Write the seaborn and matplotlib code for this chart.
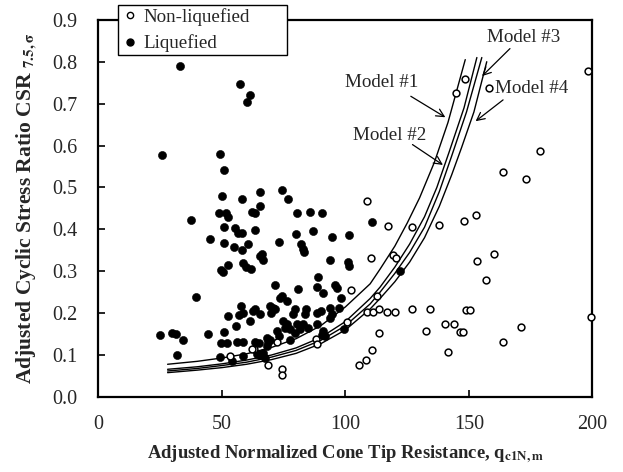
import numpy as np
import pandas as pd
import matplotlib
matplotlib.use("Agg")
import matplotlib.pyplot as plt
import seaborn as sns
from matplotlib.lines import Line2D

# ---------------- data ----------------
liq_q = [33.1, 57.4, 61.4, 60.1, 25.7, 49.3, 51.0, 49.9, 58.2, 65.5, 49.0, 51.7, 52.4, 62.1, 63.4, 65.5,
         37.4, 51.0, 55.3, 63.2, 45.0, 51.0, 49.7, 50.6, 52.6, 39.6, 52.6, 25.0, 29.7, 31.3, 34.3, 44.3,
         51.0, 49.7, 52.0, 54.7, 58.0, 60.5, 56.7, 58.1, 58.7, 59.7, 61.7, 65.5, 57.7, 58.7, 57.1, 61.4,
         62.5, 63.4, 55.7, 32.0, 56.0, 58.7, 63.4, 49.3, 54.0, 58.7, 64.1, 80.3, 85.7, 90.4, 73.2, 80.0,
         86.8, 94.5, 101.5, 82.1, 83.0, 83.3, 66.3, 66.8, 93.8, 101.2, 101.5, 110.9, 88.8, 88.4, 91.1, 95.8,
         96.5, 80.6, 71.5, 73.6, 74.3, 76.3, 98.1, 69.5, 70.6, 69.8, 71.5, 79.4, 78.9, 84.1, 83.7, 90.2,
         93.8, 94.5, 97.2, 65.5, 74.9, 76.3, 77.6, 75.6, 80.3, 81.7, 85.0, 91.1, 90.4, 91.8, 72.2, 72.9,
         68.2, 69.5, 64.8, 68.8, 99.6, 121.9, 65.5, 67.5, 66.8, 68.2, 77.6, 79.4, 83.0, 88.4, 93.8, 88.4,
         74.2, 76.9]
liq_csr = [0.789, 0.747, 0.721, 0.703, 0.578, 0.580, 0.541, 0.479, 0.473, 0.488, 0.438, 0.439, 0.430, 0.441, 0.438, 0.455,
           0.423, 0.405, 0.404, 0.399, 0.378, 0.368, 0.304, 0.298, 0.314, 0.238, 0.193, 0.149, 0.153, 0.151, 0.137, 0.151,
           0.156, 0.128, 0.128, 0.358, 0.350, 0.366, 0.392, 0.391, 0.319, 0.310, 0.306, 0.336, 0.217, 0.201, 0.195, 0.181,
           0.205, 0.211, 0.169, 0.100, 0.130, 0.130, 0.130, 0.095, 0.086, 0.098, 0.102, 0.438, 0.442, 0.439, 0.370, 0.390,
           0.396, 0.381, 0.386, 0.364, 0.352, 0.346, 0.340, 0.326, 0.326, 0.322, 0.312, 0.418, 0.287, 0.263, 0.249, 0.266,
           0.261, 0.258, 0.268, 0.237, 0.241, 0.230, 0.237, 0.218, 0.213, 0.201, 0.209, 0.209, 0.197, 0.209, 0.199, 0.205,
           0.213, 0.197, 0.213, 0.197, 0.181, 0.173, 0.161, 0.165, 0.173, 0.161, 0.165, 0.157, 0.149, 0.145, 0.157, 0.145,
           0.141, 0.137, 0.128, 0.130, 0.161, 0.300, 0.099, 0.094, 0.106, 0.122, 0.137, 0.153, 0.173, 0.175, 0.189, 0.201,
           0.494, 0.472]

non_q = [148.2, 144.7, 158.2, 178.6, 163.7, 173.2, 108.7, 117.2, 126.9, 137.7, 147.8, 152.8, 110.3, 119.4, 120.5,
         160.2, 153.4, 156.9, 102.2, 112.7, 108.7, 111.3, 113.6, 116.8, 120.1, 127.1, 134.3, 148.9, 150.5, 199.5,
         100.6, 113.6, 132.5, 140.4, 144.0, 146.4, 147.4, 171.0, 163.6, 141.4, 110.9, 108.3, 105.6, 88.1, 88.4,
         72.2, 68.8, 74.2, 74.2, 63.0, 53.3, 62.1, 198.0]
non_csr = [0.759, 0.725, 0.737, 0.587, 0.538, 0.519, 0.467, 0.407, 0.406, 0.410, 0.419, 0.435, 0.332, 0.338, 0.332,
           0.342, 0.324, 0.278, 0.256, 0.241, 0.203, 0.203, 0.209, 0.203, 0.203, 0.209, 0.211, 0.207, 0.207, 0.191,
           0.179, 0.152, 0.157, 0.173, 0.173, 0.155, 0.155, 0.167, 0.131, 0.108, 0.112, 0.088, 0.076, 0.139, 0.126,
           0.130, 0.076, 0.066, 0.052, 0.115, 0.098, 0.114, 0.778]

model1_q = [28, 40, 50, 60, 70, 80, 90, 100, 110, 114, 120, 125, 130, 136, 141.5, 148.5]
model1_csr = [0.078, 0.085, 0.093, 0.103, 0.118, 0.139, 0.170, 0.215, 0.270, 0.305, 0.360, 0.415, 0.475, 0.560, 0.655, 0.805]
model2_q = [28, 40, 50, 60, 70, 80, 90, 100, 110, 114, 120, 126, 132, 137, 142, 148, 153.2]
model2_csr = [0.066, 0.072, 0.079, 0.088, 0.100, 0.117, 0.142, 0.180, 0.235, 0.262, 0.310, 0.365, 0.430, 0.500, 0.585, 0.690, 0.810]
model3_q = [28, 40, 50, 60, 70, 80, 90, 100, 110, 114, 120, 126, 132, 138, 143, 149, 155.2]
model3_csr = [0.062, 0.068, 0.075, 0.083, 0.095, 0.111, 0.135, 0.170, 0.222, 0.250, 0.295, 0.345, 0.405, 0.490, 0.575, 0.680, 0.810]
model4_q = [28, 40, 50, 60, 70, 80, 90, 100, 110, 114, 120, 126, 132, 138, 143, 147, 152, 157.2]
model4_csr = [0.058, 0.064, 0.070, 0.078, 0.089, 0.104, 0.127, 0.160, 0.210, 0.235, 0.275, 0.322, 0.380, 0.455, 0.530, 0.595, 0.680, 0.800]

model_names = ["Model #1", "Model #2", "Model #3", "Model #4"]
label_pos = [(114.6, 0.750), (117.7, 0.623), (172.3, 0.859), (175.5, 0.736)]
arrow_tail = [(125.5, 0.721), (126.2, 0.606), (167.4, 0.836), (164.7, 0.713)]
arrow_tip = [(141.4, 0.664), (140.4, 0.550), (154.5, 0.761), (151.8, 0.654)]

x_ticks = [0, 50, 100, 150, 200]
y_ticks = [0.0, 0.1, 0.2, 0.3, 0.4, 0.5, 0.6, 0.7, 0.8, 0.9]

# ---------------- plot ----------------
sns.set_theme(style="white")
plt.rcParams["font.family"] = ["Liberation Serif", "DejaVu Serif"]
plt.rcParams["mathtext.fontset"] = "stix"

fig = plt.figure(figsize=(6.23, 4.72), dpi=100)
ax = fig.add_axes([0.158, 0.159, 0.793, 0.799])

liq_df = pd.DataFrame({"q": liq_q, "csr": liq_csr})
non_df = pd.DataFrame({"q": non_q, "csr": non_csr})

models = [(model1_q, model1_csr), (model2_q, model2_csr), (model3_q, model3_csr), (model4_q, model4_csr)]
for (mq, mc) in models:
    mdf = pd.DataFrame({"q": mq, "csr": mc})
    sns.lineplot(data=mdf, x="q", y="csr", ax=ax, color="black", linewidth=1.0,
                 sort=False, estimator=None, zorder=2)

sns.scatterplot(data=liq_df, x="q", y="csr", ax=ax, marker="o", s=34, color="black",
                edgecolor="black", linewidth=0.4, zorder=3)
sns.scatterplot(data=non_df, x="q", y="csr", ax=ax, marker="o", s=24, facecolor="white",
                edgecolor="black", linewidth=1.1, zorder=4, clip_on=False)

for name, lp, tail, tip in zip(model_names, label_pos, arrow_tail, arrow_tip):
    ax.text(lp[0], lp[1], name, fontsize=13.7, ha="center", va="center", zorder=6)
    ax.annotate("", xy=tip, xytext=tail,
                arrowprops=dict(arrowstyle="->", color="black", lw=0.9, mutation_scale=14))

ax.set_xlim(0, 200)
ax.set_ylim(0, 0.9)
ax.set_xticks(x_ticks)
ax.set_yticks(y_ticks)
ax.set_xticklabels([str(v) for v in x_ticks])
ax.set_yticklabels([f"{v:.1f}" for v in y_ticks])
ax.tick_params(direction="in", length=5, width=1.2, labelsize=14.5, color="black",
               bottom=True, left=True, top=False, right=False)
ax.tick_params(axis="x", pad=13)
ax.tick_params(axis="y", pad=15)
for sp in ax.spines.values():
    sp.set_color("black")
    sp.set_linewidth(1.6)

ax.set_xlabel(r"Adjusted Normalized Cone Tip Resistance, q$_{\mathbf{c1N,m}}$",
              fontsize=13.4, fontweight="bold", labelpad=7)
ax.set_ylabel(r"Adjusted Cyclic Stress Ratio CSR $_{\mathbf{7.5,\sigma}}$",
              fontsize=15.5, fontweight="bold", labelpad=10)

handles = [Line2D([], [], linestyle="none", marker="o", markersize=4.5, markerfacecolor="white",
                  markeredgecolor="black", markeredgewidth=1.0),
           Line2D([], [], linestyle="none", marker="o", markersize=5, markerfacecolor="black",
                  markeredgecolor="black")]
leg = ax.legend(handles, ["Non-liquefied", "Liquefied"], loc="upper left",
                bbox_to_anchor=(118 / 623, 1 - 56 / 472, 169 / 623, 51 / 472),
                bbox_transform=fig.transFigure, mode="expand",
                frameon=True, fancybox=False, edgecolor="black", framealpha=1,
                fontsize=13.7, borderpad=0.15, labelspacing=0.45, handletextpad=0.2,
                handlelength=1.0, borderaxespad=0)
leg.get_frame().set_linewidth(1.0)
leg.set_zorder(10)

fig.savefig("out.png", dpi=100)
